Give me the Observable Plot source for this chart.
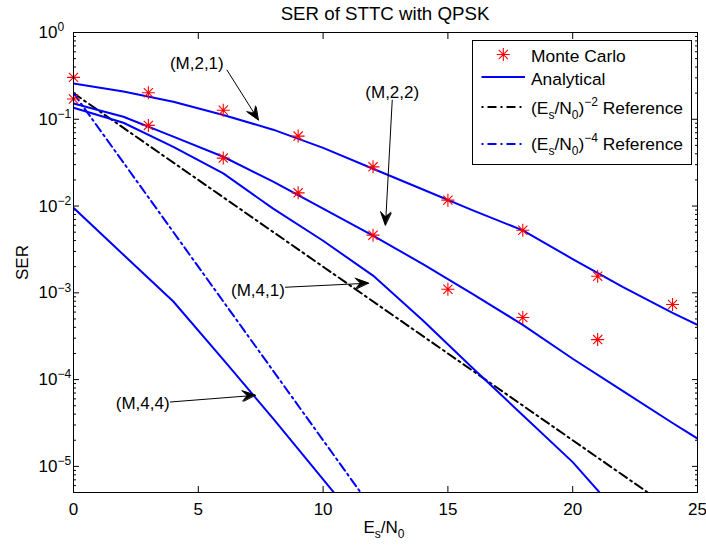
<!DOCTYPE html>
<html>
<head>
<meta charset="utf-8">
<script src="https://cdn.jsdelivr.net/npm/d3@7"></script>
<script src="https://cdn.jsdelivr.net/npm/@observablehq/plot@0.6"></script>
<style>
  body { margin: 0; background: #fff; font-family: "Liberation Sans", Arial, sans-serif; }
  #wrap { position: relative; width: 706px; height: 545px; overflow: hidden; }
  #chart { position: absolute; left: 0; top: 0; }
  #title { position: absolute; left: 73px; width: 624px; top: 5px; text-align: center; font-size: 18.7px; line-height: 18.7px; color: #000; }
  #xlabel { position: absolute; left: 284px; width: 200px; top: 519px; text-align: center; font-size: 17px; line-height: 17px; color: #000; }
  #xlabel sub { font-size: 12px; vertical-align: -5px; line-height: 0; }
  #legend { position: absolute; left: 472px; top: 40px; }
</style>
</head>
<body>
<div id="wrap">
  <div id="chart"></div>
  <div id="title">SER of STTC with QPSK</div>
  <div id="xlabel">E<sub>s</sub>/N<sub>0</sub></div>
  <svg id="legend" width="221" height="126"></svg>
</div>
<script>
// ---------- data ----------
// Monte Carlo simulation points
const mcX21 = [0, 3, 6, 9, 12, 15, 18, 21, 24];
const mcSER21 = [0.304, 0.202, 0.127, 0.064, 0.0283, 0.0117, 0.00527, 0.00155, 0.000733];
const mcX22 = [0, 3, 6, 9, 12, 15, 18, 21];
const mcSER22 = [0.171, 0.085, 0.0357, 0.0142, 0.00462, 0.0011, 0.000519, 0.000289];

// Analytical curves
const anaX21 = [0, 2, 4, 6, 8, 10, 12, 14, 16, 18, 20, 22, 24, 25];
const anaSER21 = [0.259, 0.209, 0.159, 0.112, 0.0759, 0.0468, 0.0269, 0.0155, 0.00891, 0.00525, 0.00245, 0.00117, 0.000589, 0.000427];
const anaX22 = [0, 2, 4, 6, 8, 10, 12, 14, 16, 18, 20, 22, 24, 25];
const anaSER22 = [0.152, 0.107, 0.0631, 0.037, 0.0191, 0.00933, 0.00457, 0.00214, 0.000966, 0.000427, 0.000174, 0.0000741, 0.0000316, 0.0000209];
const anaX41 = [0, 2, 4, 6, 8, 10, 12, 14, 16, 18, 20, 22];
const anaSER41 = [0.136, 0.0912, 0.0482, 0.0238, 0.00933, 0.00398, 0.00158, 0.000479, 0.000135, 0.0000389, 0.0000112, 0.00000251];
const anaX44 = [0, 2, 4, 6, 8, 10, 12];
const anaSER44 = [0.00955, 0.00275, 0.000794, 0.00017, 0.0000355, 0.00000708, 0.00000141];

// Diversity reference lines
const refX2 = [0, 25];
const refSER2 = [0.2, 0.000002];
const refX4 = [0, 12.5];
const refSER4 = [0.2, 0.000002];

// Annotations
const annLabel = ["(M,2,1)", "(M,2,2)", "(M,4,1)", "(M,4,4)"];
const annTextX = [4.94, 12.77, 7.39, 2.77];
const annTextY = [0.439, 0.203, 0.00105, 0.0000533];
const annFromX = [6.15, 12.77, 8.49, 3.88];
const annFromY = [0.369, 0.166, 0.00116, 0.0000552];
const annToX = [7.41, 12.5, 11.82, 7.29];
const annToY = [0.098, 0.00603, 0.00129, 0.0000659];

// Axis ticks
const xTicks = [0, 5, 10, 15, 20, 25];
const yTicks = [1, 0.1, 0.01, 0.001, 0.0001, 0.00001];
const yDomain = [0.000005, 1];

// ---------- build tables ----------
const rows = (xs, ys, s) => xs.map((x, i) => ({x, y: ys[i], s}));
const mcRows = [...rows(mcX21, mcSER21, "M21"), ...rows(mcX22, mcSER22, "M22")];
const anaRows = [
  ...rows(anaX21, anaSER21, "M21"), ...rows(anaX22, anaSER22, "M22"),
  ...rows(anaX41, anaSER41, "M41"), ...rows(anaX44, anaSER44, "M44")
];
const ref2Rows = rows(refX2, refSER2, "r2");
const ref4Rows = rows(refX4, refSER4, "r4");
const annRows = annLabel.map((t, i) => ({t, tx: annTextX[i], ty: annTextY[i],
  x1: annFromX[i], y1: annFromY[i], x2: annToX[i], y2: annToY[i]}));

const yMinor = [];
for (let e = -6; e < 0; e++) for (let m = 2; m <= 9; m++) {
  const v = +(m * Math.pow(10, e)).toPrecision(3);
  if (v >= yDomain[0] && v <= yDomain[1]) yMinor.push(v);
}

// MATLAB-like '*' marker
const star = {
  draw(ctx, size) {
    const r = Math.sqrt(size / Math.PI), d = r * Math.SQRT1_2;
    ctx.moveTo(-r, 0); ctx.lineTo(r, 0);
    ctx.moveTo(0, -r); ctx.lineTo(0, r);
    ctx.moveTo(-d, -d); ctx.lineTo(d, d);
    ctx.moveTo(-d, d); ctx.lineTo(d, -d);
  }
};

const FS = 17;

const chart = Plot.plot({
  width: 706,
  height: 545,
  marginLeft: 73,
  marginRight: 9,
  marginTop: 32,
  marginBottom: 53,
  style: {fontFamily: '"Liberation Sans", Arial, sans-serif', fontSize: FS + "px", color: "black", background: "white"},
  x: {domain: [0, 25]},
  y: {type: "log", domain: yDomain},
  marks: [
    // tick marks (inward, on all four sides)
    Plot.axisX({ticks: xTicks, anchor: "bottom", tickSize: 6, dy: -6, fill: "none", label: null}),
    Plot.axisX({ticks: xTicks, anchor: "top", tickSize: 6, dy: 6, fill: "none", label: null}),
    Plot.axisY({ticks: yTicks, anchor: "left", tickSize: 6, dx: 6, fill: "none", label: null}),
    Plot.axisY({ticks: yMinor, anchor: "left", tickSize: 3, dx: 3, fill: "none", label: null}),
    Plot.axisY({ticks: yTicks, anchor: "right", tickSize: 6, dx: -6, fill: "none", label: null}),
    Plot.axisY({ticks: yMinor, anchor: "right", tickSize: 3, dx: -3, fill: "none", label: null}),
    // tick labels
    Plot.axisX({ticks: xTicks, anchor: "bottom", tickSize: 0, tickPadding: 10, fontSize: FS, label: null}),
    Plot.axisY({ticks: yTicks, anchor: "left", tickSize: 0, tickPadding: 35, textAnchor: "start", fontSize: FS,
      tickFormat: d => "10^" + Math.round(Math.log10(d)),
      label: "SER", labelAnchor: "center", labelArrow: "none", labelOffset: 58}),
    // data
    Plot.line(ref2Rows, {x: "x", y: "y", stroke: "black", strokeWidth: 2, strokeDasharray: "9,4,2,4", clip: true}),
    Plot.line(ref4Rows, {x: "x", y: "y", stroke: "#0000ff", strokeWidth: 2, strokeDasharray: "9,4,2,4", clip: true}),
    Plot.line(anaRows, {x: "x", y: "y", z: "s", stroke: "#0000ff", strokeWidth: 2, clip: true}),
    Plot.dot(mcRows, {x: "x", y: "y", symbol: star, r: 6.5, stroke: "#ff0000", fill: "none", strokeWidth: 1.1}),
    // annotations
    Plot.arrow(annRows, {x1: "x1", y1: "y1", x2: "x2", y2: "y2", stroke: "black", strokeWidth: 1, headLength: 19.5, headAngle: 45}),
    Plot.text(annRows, {x: "tx", y: "ty", text: "t", fontSize: FS, fill: "black"}),
    Plot.frame({stroke: "black", strokeWidth: 1})
  ]
});
document.getElementById("chart").appendChild(chart);

// superscript exponents on the y tick labels
d3.select(chart).selectAll('g[aria-label="y-axis tick label"] text').each(function () {
  const s = this.textContent;
  const m = s.match(/^10\^(-?\d+)$/);
  if (!m) return;
  const sel = d3.select(this);
  sel.text(null);
  sel.append("tspan").text("10");
  sel.append("tspan").attr("dy", "-0.55em").attr("font-size", "12px")
    .text(m[1].replace("-", "\u2212"));
});

// MATLAB-style filled, notched arrow heads, positioned through the plot's own scales
(function () {
  const sx = chart.scale("x"), sy = chart.scale("y");
  const fx = typeof sx.apply === "function" ? (v) => sx.apply(v) : d3.scaleLinear(sx.domain, sx.range);
  const fy = typeof sy.apply === "function" ? (v) => sy.apply(v) : d3.scaleLog(sy.domain, sy.range);
  const g = d3.select(chart).append("g").attr("aria-label", "arrow heads");
  annRows.forEach((r) => {
    const x1 = fx(r.x1), y1 = fy(r.y1), x2 = fx(r.x2), y2 = fy(r.y2);
    const a = Math.atan2(y2 - y1, x2 - x1), c = Math.cos(a), s = Math.sin(a);
    const L = 13, W = 5.4;
    const bx = x2 - L * c, by = y2 - L * s;
    const lx = bx - W * s, ly = by + W * c, rx = bx + W * s, ry = by - W * c;
    const nx = x2 - 0.62 * L * c, ny = y2 - 0.62 * L * s;
    g.append("path")
      .attr("d", `M${x2},${y2}L${lx},${ly}L${nx},${ny}L${rx},${ry}Z`)
      .attr("fill", "black").attr("stroke", "black").attr("stroke-width", 0.6)
      .attr("stroke-linejoin", "miter");
  });
})();

// ---------- legend ----------
const lg = d3.select("#legend");
lg.append("rect").attr("x", 0.5).attr("y", 0.5).attr("width", 219).attr("height", 124)
  .attr("fill", "white").attr("stroke", "black").attr("stroke-width", 1);
const legendFont = '"Liberation Sans", Arial, sans-serif';
// star sample
const sr = 6.5, sd = sr * Math.SQRT1_2, scx = 31.3, scy = 14.5;
lg.append("path")
  .attr("d", `M${scx - sr},${scy}H${scx + sr}M${scx},${scy - sr}V${scy + sr}M${scx - sd},${scy - sd}L${scx + sd},${scy + sd}M${scx - sd},${scy + sd}L${scx + sd},${scy - sd}`)
  .attr("stroke", "#ff0000").attr("stroke-width", 1.1).attr("fill", "none");
// line samples
const sample = (y, color, dash) => lg.append("line").attr("x1", 9.5).attr("x2", 53).attr("y1", y).attr("y2", y)
  .attr("stroke", color).attr("stroke-width", 2).attr("stroke-dasharray", dash);
sample(37, "#0000ff", null);
sample(67, "black", "2,4,9,4");
sample(104, "#0000ff", "2,4,9,4");
const ltext = (y) => lg.append("text").attr("x", 59).attr("y", y)
  .attr("font-family", legendFont).attr("font-size", 17.4).attr("fill", "black");
ltext(21.5).text("Monte Carlo");
ltext(44.5).text("Analytical");
function refText(y, exp) {
  const t = ltext(y);
  t.append("tspan").text("(E");
  t.append("tspan").attr("dy", 5).attr("font-size", 12).text("s");
  t.append("tspan").attr("dy", -5).text("/N");
  t.append("tspan").attr("dy", 5).attr("font-size", 12).text("0");
  t.append("tspan").attr("dy", -5).text(")");
  t.append("tspan").attr("dy", -8).attr("font-size", 12).text(exp);
  t.append("tspan").attr("dy", 8).text(" Reference");
}
refText(73.5, "\u22122");
refText(110, "\u22124");
</script>
</body>
</html>
